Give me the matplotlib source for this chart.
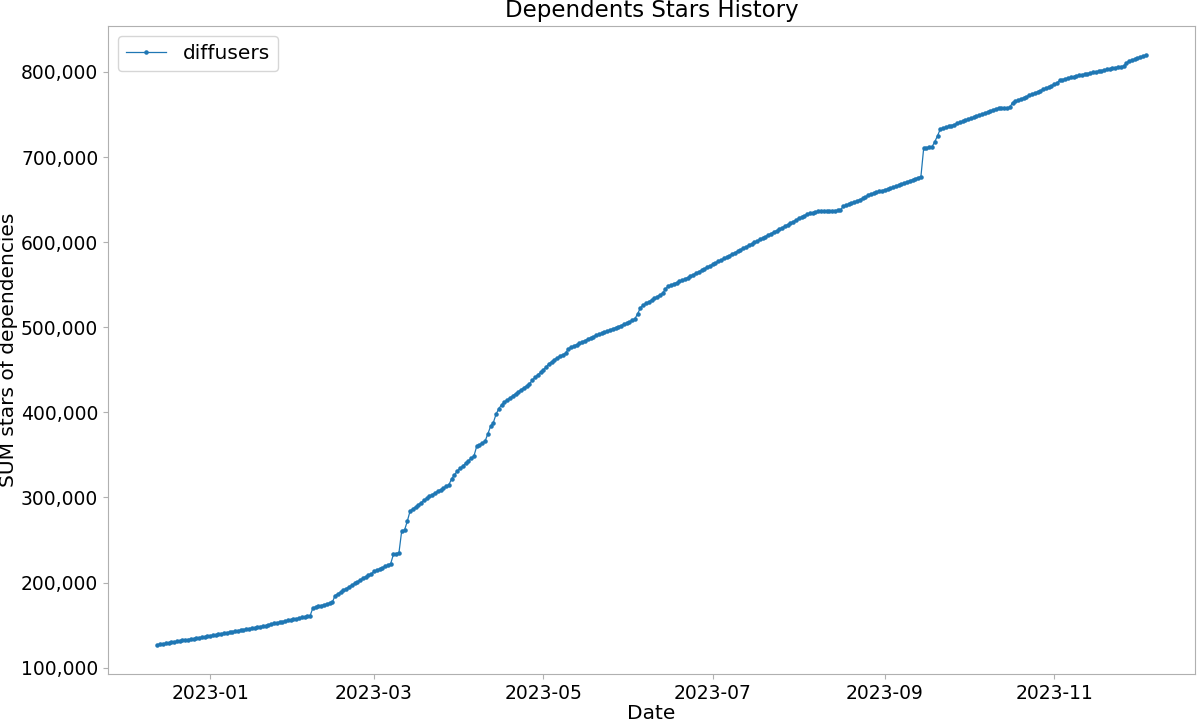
#!/usr/bin/env python3
import pandas as pd
import matplotlib
matplotlib.use("Agg")
import matplotlib.pyplot as plt
import matplotlib.ticker as mticker
import matplotlib.dates as mdates

OUT_FILE = "out.png"

START_DATE = "2022-12-13"
SERIES_NAME = "diffusers"

# daily SUM of dependents' stars, in thousands, one list per month
DEC_2022 = [127.0, 127.5, 128.1, 128.6, 129.2, 129.7, 130.3, 130.9, 131.5, 132.0,
            132.5, 133.0, 133.6, 134.1, 134.7, 135.2, 135.8, 136.3, 136.9]
JAN_2023 = [137.5, 138.0, 138.6, 139.2, 139.8, 140.4, 141.0, 141.6, 142.2, 142.8,
            143.4, 144.0, 144.6, 145.2, 145.8, 146.4, 147.0, 147.6, 148.2, 148.8,
            149.4, 150.5, 151.3, 152.0, 152.7, 153.4, 154.1, 154.8, 155.5, 156.2,
            156.9]
FEB_2023 = [157.6, 158.3, 159.0, 159.7, 160.4, 161.0, 170.2, 171.1, 172.0, 172.9,
            173.8, 174.8, 175.8, 176.8, 184.7, 186.8, 188.9, 190.9, 192.9, 194.9,
            196.9, 198.9, 200.9, 202.9, 204.9, 206.9, 209.0, 210.0]
MAR_2023 = [213.0, 214.5, 216.0, 217.5, 219.0, 220.5, 222.0, 233.0, 234.0, 235.0,
            261.0, 261.5, 272.0, 284.0, 286.5, 289.0, 291.5, 294.0, 296.5, 299.0,
            301.5, 303.4, 305.3, 307.2, 309.1, 311.0, 313.0, 315.0, 322.0, 326.5,
            331.0]
APR_2023 = [334.0, 337.0, 340.0, 343.0, 346.0, 348.6, 360.0, 362.0, 364.0, 366.0,
            374.5, 383.5, 388.0, 398.0, 404.5, 409.0, 412.0, 414.5, 417.0, 419.5,
            422.0, 424.3, 426.6, 428.9, 431.2, 433.5, 437.5, 441.0, 444.0, 447.0]
MAY_2023 = [450.0, 453.2, 457.0, 459.5, 462.0, 464.0, 466.0, 467.7, 469.4, 474.5,
            476.5, 478.0, 479.6, 481.2, 482.8, 484.4, 486.0, 487.5, 489.0, 490.3,
            491.6, 492.9, 494.2, 495.5, 496.8, 498.1, 499.4, 500.7, 502.0, 503.5,
            505.0]
JUN_2023 = [506.5, 508.0, 510.0, 516.0, 523.0, 526.0, 528.0, 530.0, 532.0, 534.0,
            536.0, 538.0, 540.0, 545.0, 548.0, 549.5, 551.0, 552.5, 554.0, 555.0,
            556.7, 558.4, 560.2, 561.9, 563.6, 565.3, 567.0, 568.8, 570.5, 572.2]
JUL_2023 = [573.9, 575.6, 577.4, 579.1, 580.8, 582.5, 584.2, 586.0, 587.7, 589.4,
            591.1, 592.8, 594.6, 596.3, 598.0, 599.7, 601.4, 603.2, 604.9, 606.6,
            608.3, 610.0, 611.8, 613.5, 615.2, 617.0, 618.8, 620.6, 622.4, 624.2,
            626.0]
AUG_2023 = [627.8, 629.6, 631.2, 632.6, 633.8, 634.8, 635.6, 636.2, 636.5, 636.7,
            636.8, 636.9, 637.0, 637.1, 637.3, 637.5, 642.0, 643.3, 644.6, 645.9,
            647.2, 648.5, 650.0, 651.3, 652.6, 655.6, 656.6, 657.6, 658.6, 659.6,
            660.5]
SEP_2023 = [661.5, 662.5, 663.5, 664.5, 665.8, 667.0, 668.3, 669.6, 670.8, 672.0,
            673.3, 674.6, 675.8, 677.0, 710.3, 711.0, 711.5, 712.0, 718.0, 725.0,
            733.0, 734.0, 735.0, 736.0, 737.0, 738.2, 739.4, 740.6, 741.8, 743.0]
OCT_2023 = [744.2, 745.4, 746.7, 747.9, 749.2, 750.4, 751.7, 752.9, 754.2, 755.4,
            756.7, 757.5, 757.7, 757.9, 758.0, 758.2, 764.0, 765.4, 766.8, 768.2,
            769.6, 771.0, 772.4, 773.8, 775.2, 776.6, 778.0, 779.4, 780.8, 782.2,
            783.6]
NOV_2023 = [785.5, 787.0, 790.0, 791.0, 791.9, 792.8, 793.7, 794.6, 795.4, 796.0,
            796.7, 797.4, 798.1, 798.8, 799.5, 800.2, 800.9, 801.6, 802.3, 803.0,
            803.7, 804.4, 805.1, 805.8, 806.3, 806.8, 810.5, 812.8, 814.0, 815.2]
DEC_2023 = [816.4, 817.6, 818.6, 819.8]


def main():
    months = [DEC_2022, JAN_2023, FEB_2023, MAR_2023, APR_2023, MAY_2023, JUN_2023,
              JUL_2023, AUG_2023, SEP_2023, OCT_2023, NOV_2023, DEC_2023]
    values = [v * 1000 for m in months for v in m]
    dates = pd.date_range(START_DATE, periods=len(values), freq="D")
    df = pd.DataFrame({"date": dates, "stars": values})

    fig = plt.figure(figsize=(12, 7.21), dpi=100)
    ax = fig.add_axes([0.09, 0.065, 0.906, 0.8995])

    ax.plot(df["date"], df["stars"], marker=".", markersize=4.5, linewidth=0.9,
            color="#1f77b4", label=SERIES_NAME)

    ax.set_title("Dependents Stars History", fontsize=16.5)
    ax.set_xlabel("Date", fontsize=14.5, labelpad=1)
    ax.set_ylabel("SUM stars of dependencies", fontsize=14.5, labelpad=2)

    ax.yaxis.set_major_formatter(mticker.FuncFormatter(lambda v, _: f"{v:,.0f}"))
    ax.xaxis.set_major_locator(mdates.MonthLocator(bymonth=[1, 3, 5, 7, 9, 11]))
    ax.xaxis.set_major_formatter(mdates.DateFormatter("%Y-%m"))
    ax.tick_params(axis="both", labelsize=13.5, color="#b0b0b0", length=3.5)

    for s in ax.spines.values():
        s.set_color("#b0b0b0")

    ax.legend(loc="upper left", fontsize=14.5)

    fig.savefig(OUT_FILE, dpi=100)
    print(f"Wrote: {OUT_FILE}")


if __name__ == "__main__":
    main()
